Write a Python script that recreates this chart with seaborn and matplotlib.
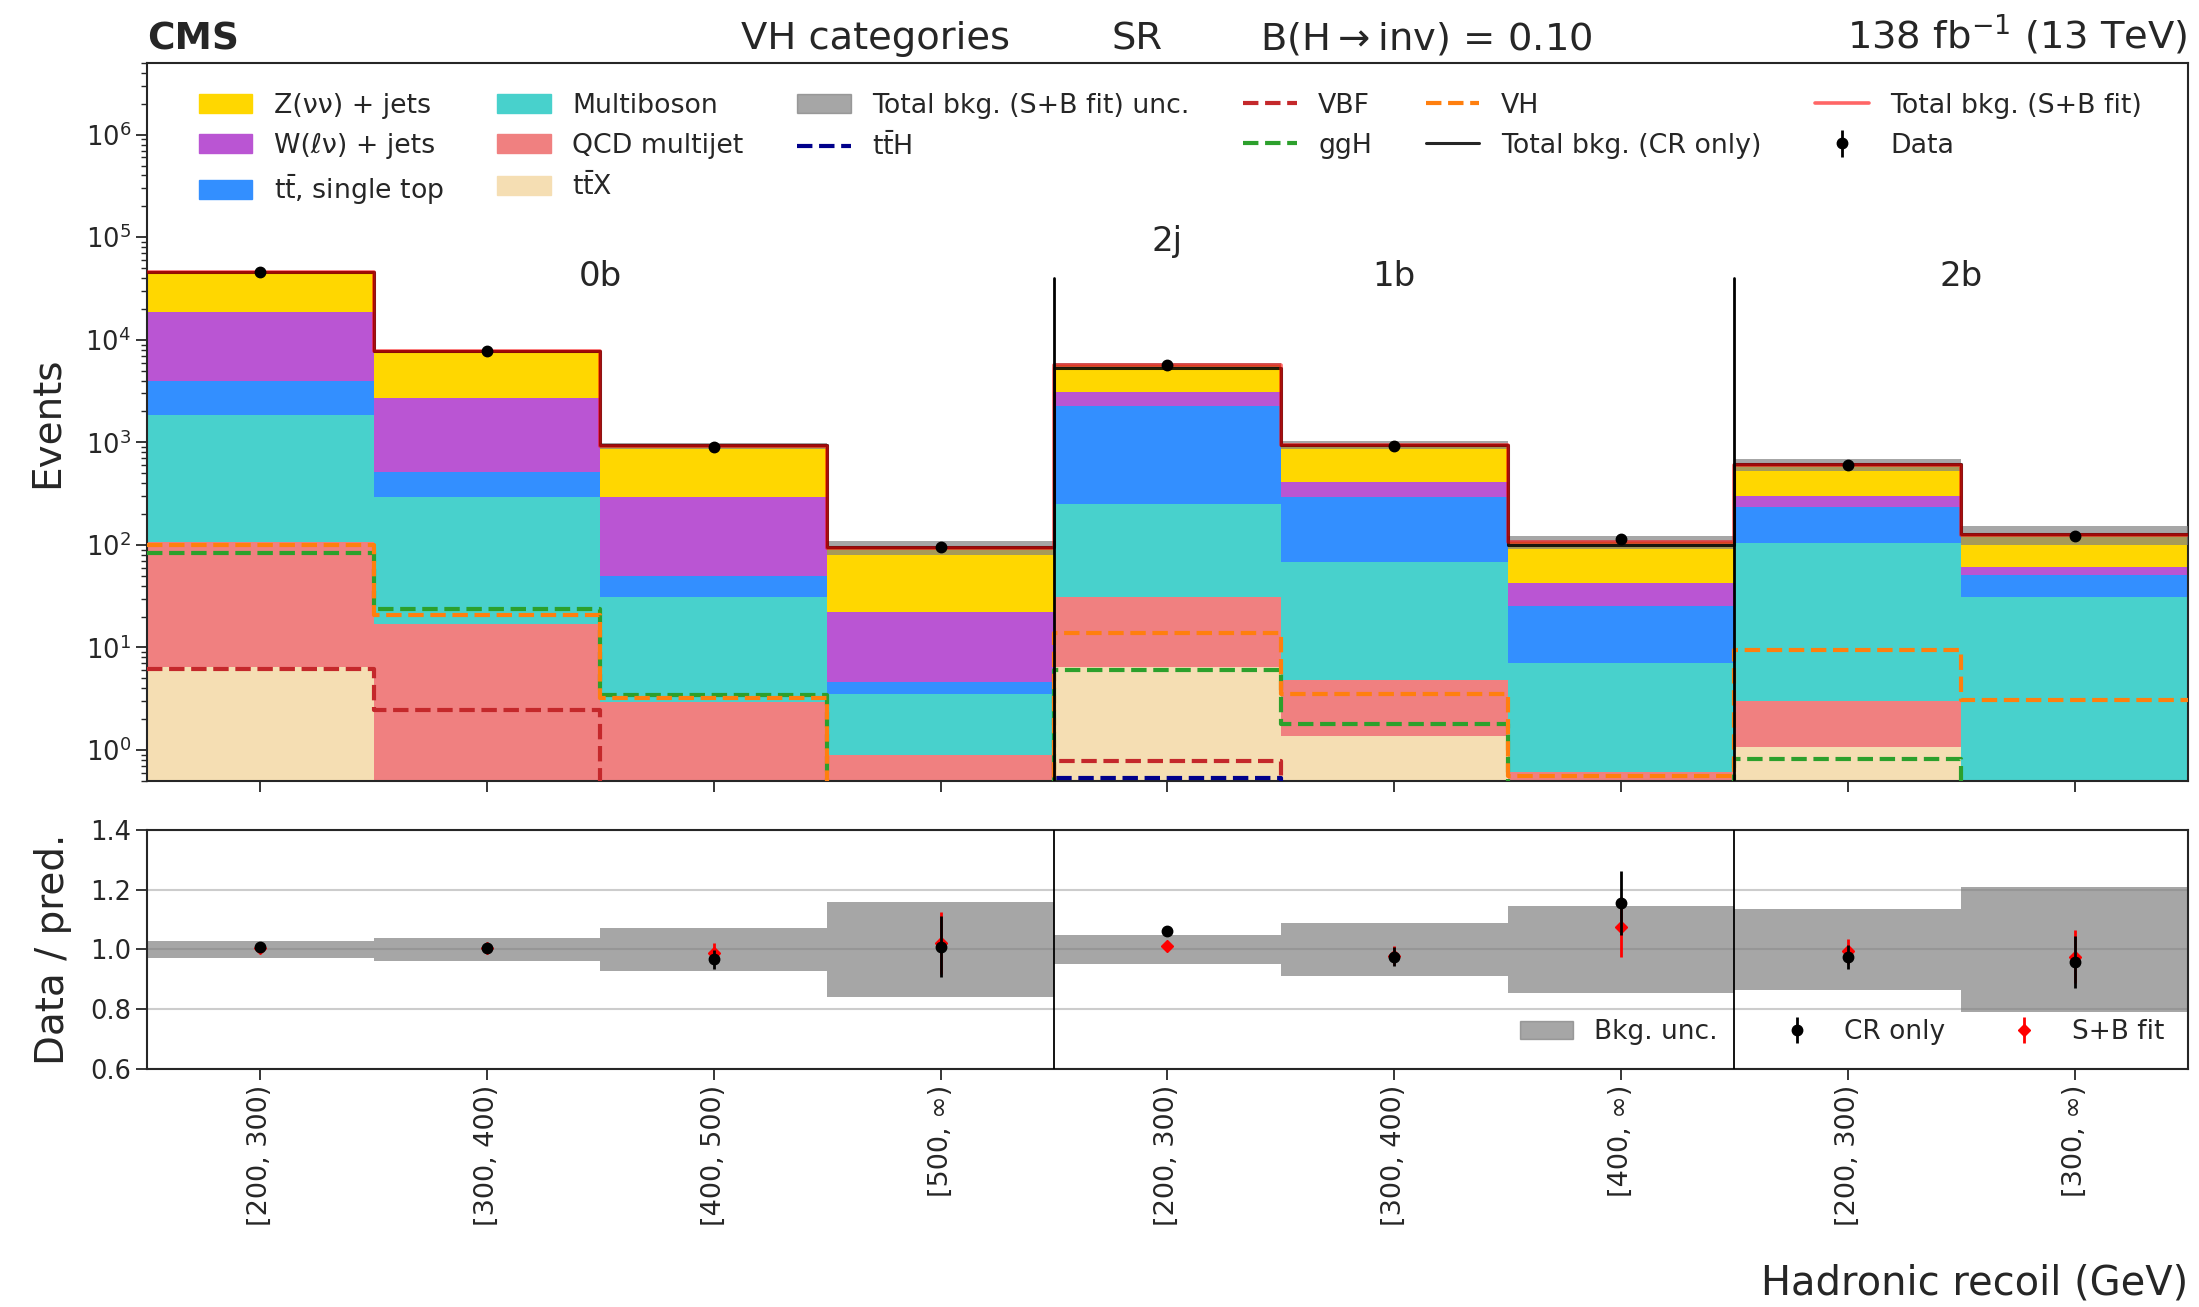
import numpy as np
import pandas as pd
import matplotlib
matplotlib.use("Agg")
import matplotlib.pyplot as plt
import matplotlib.transforms as mtransforms
from matplotlib.patches import Patch
from matplotlib.lines import Line2D
import seaborn as sns

# ---------------- data ----------------
bin_labels = ["[200, 300)", "[300, 400)", "[400, 500)", "[500, ∞)",
              "[200, 300)", "[300, 400)", "[400, ∞)",
              "[200, 300)", "[300, ∞)"]
category_names = ["0b", "1b", "2b"]
category_centers = [2.0, 5.5, 8.0]
category_bounds = [4, 7]

# background yields after the S+B fit (events per bin)
znunu = [27000, 5020, 625, 71.7, 2530, 526, 64.6, 301, 65.2]
wlnu = [14860, 2190, 245, 17.7, 850, 119, 16.8, 71, 10.2]
top = [2070, 215, 18.5, 1.07, 2002, 226, 18.5, 127, 19.9]
multiboson = [1763, 278, 28.4, 2.62, 217, 63.8, 6.47, 102, 30.4]
qcd = [100, 16.8, 2.75, 0.8, 24.9, 3.41, 0.41, 1.94, 0.15]
ttx = [6.5, 0.3, 0.2, 0.1, 6.4, 1.37, 0.2, 1.06, 0.2]

# signal yields for B(H->inv) = 0.10
vbf = [6.2, 2.46, 0.3, 0.2, 0.78, 0.3, 0.2, 0.3, 0.2]
ggh = [83, 23.6, 3.45, 0.3, 6.08, 1.78, 0.3, 0.82, 0.3]
vh = [100, 20.6, 3.25, 0.3, 13.8, 3.52, 0.56, 9.45, 3.07]
tth = [0.1, 0.05, 0.03, 0.02, 0.53, 0.2, 0.1, 0.3, 0.1]

# observed data and control-region-only prediction
data = [46000, 7750, 910, 96, 5700, 920, 115, 600, 123]
data_err = [215, 88, 30, 9.8, 75, 30, 10.7, 24.5, 11.1]
total_cr = [45590, 7720, 941, 95.1, 5367, 943, 99.6, 616, 128.5]
bkg_unc = [0.03, 0.04, 0.073, 0.158, 0.05, 0.09, 0.146, 0.137, 0.21]

# ---------------- style ----------------
sns.set_style("ticks")
plt.rcParams.update({
    "font.family": ["DejaVu Sans"],
    "axes.linewidth": 1.5,
    "xtick.major.width": 1.3, "ytick.major.width": 1.3,
    "ytick.minor.width": 1.0,
    "xtick.major.size": 8, "ytick.major.size": 8, "ytick.minor.size": 4,
    "xtick.labelsize": 19.5, "ytick.labelsize": 18.5,
})

proc_names = ["Z(νν) + jets", "W(ℓν) + jets", r"t$\bar{\mathrm{t}}$, single top",
              "Multiboson", "QCD multijet", r"t$\bar{\mathrm{t}}$X"]
proc_values = [znunu, wlnu, top, multiboson, qcd, ttx]
proc_colors = ["#FFD700", "#BA55D3", "#338FFF", "#48D1CC", "#F08080", "#F5DEB3"]

nbins = len(bin_labels)
edges = np.arange(nbins + 1)
centers = edges[:-1] + 0.5
hist_bins = dict(bins=nbins, binrange=(0, nbins))

stack_df = pd.DataFrame({
    "x": np.tile(centers, len(proc_names)),
    "w": np.concatenate([np.asarray(v, float) for v in proc_values]),
    "proc": np.repeat(proc_names, nbins),
})
total_sb = stack_df.groupby("x")["w"].sum().values
data_a = np.asarray(data, float)
err_a = np.asarray(data_err, float)
cr_a = np.asarray(total_cr, float)
unc_a = np.asarray(bkg_unc, float)

fig = plt.figure(figsize=(21.99, 13.07), dpi=100)
ax = fig.add_axes([0.0668, 0.4025, 0.9282, 0.5493])
axr = fig.add_axes([0.0668, 0.1821, 0.9282, 0.1829])

# ---------------- main panel ----------------
sns.histplot(data=stack_df, x="x", weights="w", hue="proc", hue_order=proc_names,
             palette=dict(zip(proc_names, proc_colors)), multiple="stack",
             element="step", fill=True, alpha=1, linewidth=0,
             legend=False, ax=ax, **hist_bins)

band_lo = np.append(total_sb * (1 - unc_a), total_sb[-1] * (1 - unc_a[-1]))
band_hi = np.append(total_sb * (1 + unc_a), total_sb[-1] * (1 + unc_a[-1]))
ax.fill_between(edges, band_lo, band_hi, step="post", color="gray",
                alpha=0.7, linewidth=0, zorder=3)

sig_specs = [(tth, "darkblue", r"t$\bar{\mathrm{t}}$H"), (vbf, "#C4282B", "VBF"),
             (ggh, "#2CA02C", "ggH"), (vh, "#FF7F0E", "VH")]
for vals, col, _ in sig_specs:
    sns.histplot(x=centers, weights=np.asarray(vals, float), element="step",
                 fill=False, color=col, linewidth=3, linestyle="--", ax=ax,
                 zorder=4, **hist_bins)

sns.histplot(x=centers, weights=cr_a, element="step", fill=False,
             color="black", linewidth=2.2, alpha=0.85, ax=ax, zorder=5, **hist_bins)
sns.histplot(x=centers, weights=total_sb, element="step", fill=False,
             color="red", linewidth=2.6, alpha=0.6, ax=ax, zorder=6, **hist_bins)

data_eb = ax.errorbar(centers, data_a, yerr=err_a, fmt="o", color="black",
                      markersize=7.5, elinewidth=2, zorder=7)

ax.set_yscale("log")
ax.set_ylim(0.5, 5e6)
ax.set_xlim(0, nbins)
ax.set_xticks(centers)
ax.tick_params(axis="x", labelbottom=False)
ax.set_xlabel("")
ax.set_ylabel("Events", fontsize=28, labelpad=14)

for b in category_bounds:
    ax.axvline(b, ymin=0, ymax=0.70, color="black", linewidth=2, zorder=8)
    axr.axvline(b, color="black", linewidth=1.3, zorder=8)

blend = mtransforms.blended_transform_factory(ax.transData, ax.transAxes)
for name, xc in zip(category_names, category_centers):
    ax.text(xc, 0.703, name, transform=blend, ha="center", va="center", fontsize=24.5)
ax.text(4.5, 0.752, "2j", transform=blend, ha="center", va="center", fontsize=24.5)

ax.text(0.0, 1.008, "CMS", transform=ax.transAxes, ha="left", va="bottom",
        fontsize=27, fontweight="bold")
ax.text(0.357, 1.008, "VH categories", transform=ax.transAxes, ha="center",
        va="bottom", fontsize=27.7)
ax.text(0.485, 1.008, "SR", transform=ax.transAxes, ha="center", va="bottom",
        fontsize=27.7)
ax.text(0.627, 1.008, r"B(H$\rightarrow$inv) = 0.10", transform=ax.transAxes,
        ha="center", va="bottom", fontsize=27.7)
ax.text(1.0, 1.008, r"138 fb$^{-1}$ (13 TeV)", transform=ax.transAxes,
        ha="right", va="bottom", fontsize=27.7)

handles = [Patch(color=c) for c in proc_colors]
labels = list(proc_names)
handles.append(Patch(color="gray", alpha=0.7))
labels.append("Total bkg. (S+B fit) unc.")
for vals, col, lab in sig_specs:
    handles.append(Line2D([], [], color=col, linestyle="--", linewidth=3))
    labels.append(lab)
handles.append(Line2D([], [], color="black", linewidth=2.2, alpha=0.85))
labels.append("Total bkg. (CR only)")
handles.append(Line2D([], [], color="red", linewidth=2.6, alpha=0.6))
labels.append("Total bkg. (S+B fit)")
handles.append(data_eb)
labels.append("Data")
ax.legend(handles, labels, ncol=6, loc="upper left", bbox_to_anchor=(0.0135, 0.992),
          frameon=False, fontsize=19.3, labelspacing=0.52)

# ---------------- ratio panel ----------------
r_lo = np.append(1 - unc_a, 1 - unc_a[-1])
r_hi = np.append(1 + unc_a, 1 + unc_a[-1])
axr.fill_between(edges, r_lo, r_hi, step="post", color="gray", alpha=0.7,
                 linewidth=0, zorder=2)
eb_sb = axr.errorbar(centers, data_a / total_sb, yerr=err_a / total_sb, fmt="D",
                     color="red", markersize=6, elinewidth=2, zorder=4)
eb_cr = axr.errorbar(centers, data_a / cr_a, yerr=err_a / cr_a, fmt="o",
                     color="black", markersize=7.5, elinewidth=2, zorder=5)

axr.set_xlim(0, nbins)
axr.set_ylim(0.6, 1.4)
axr.set_yticks([0.6, 0.8, 1.0, 1.2, 1.4])
axr.yaxis.grid(True, color="#cccccc", linewidth=1.5)
axr.set_axisbelow(True)
axr.set_xticks(centers)
axr.set_xticklabels(bin_labels, rotation=90)
axr.set_ylabel("Data / pred.", fontsize=28, labelpad=13)
axr.set_xlabel("Hadronic recoil (GeV)", fontsize=28.8, loc="right", labelpad=27)
axr.legend([Patch(color="gray", alpha=0.7), eb_cr, eb_sb],
           ["Bkg. unc.", "CR only", "S+B fit"], ncol=3, loc="lower right",
           frameon=False, fontsize=19)

fig.savefig("out.png", dpi=100)
